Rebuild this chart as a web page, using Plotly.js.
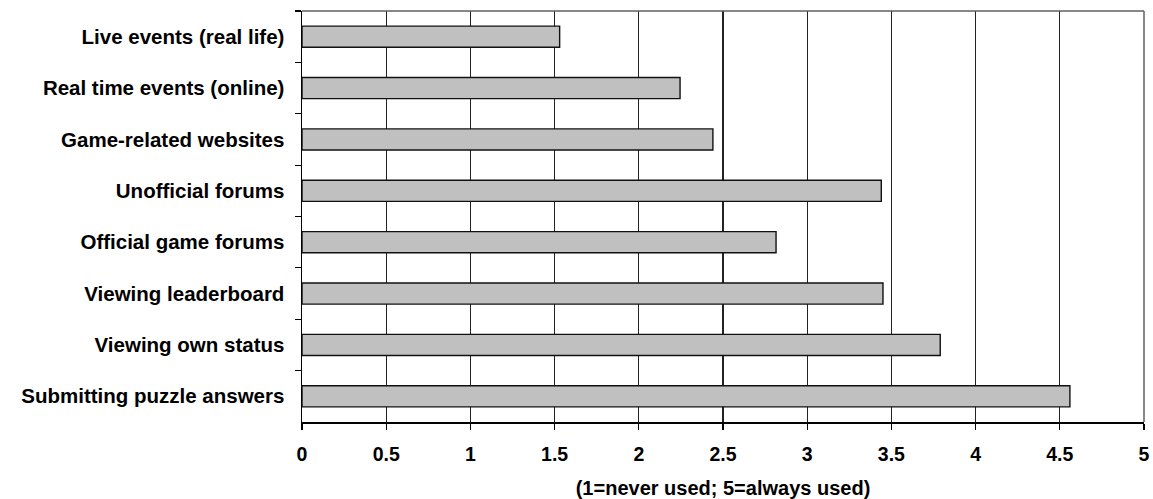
<!DOCTYPE html>
<html>
<head>
<meta charset="utf-8">
<script src="https://cdn.plot.ly/plotly-3.0.1.min.js"></script>
<style>html,body{margin:0;padding:0;background:#fff;}#chart{width:1153px;height:499px;}</style>
</head>
<body>
<div id="chart"></div>
<script>
const categories = [
  "Live events (real life)",
  "Real time events (online)",
  "Game-related websites",
  "Unofficial forums",
  "Official game forums",
  "Viewing leaderboard",
  "Viewing own status",
  "Submitting puzzle answers"
];
const values = [1.53, 2.245, 2.44, 3.44, 2.815, 3.45, 3.79, 4.56];
const xTitle = "(1=never used; 5=always used)";

const FONT = "Liberation Sans, Arial, sans-serif";

const trace = {
  type: "bar",
  orientation: "h",
  y: categories,
  x: values,
  marker: { color: "#c0c0c0", line: { color: "#111", width: 1.4 } },
  hoverinfo: "x+y"
};

const layout = {
  width: 1153,
  height: 499,
  margin: { l: 302, r: 9, t: 11, b: 77 },
  paper_bgcolor: "#fff",
  plot_bgcolor: "#fff",
  bargap: 0.59,
  showlegend: false,
  font: { family: FONT, color: "#000" },
  xaxis: {
    range: [0, 5],
    dtick: 0.5,
    tick0: 0,
    showgrid: true,
    gridcolor: "#222",
    gridwidth: 1.3,
    zeroline: false,
    showline: true,
    linecolor: "#000",
    linewidth: 1.5,
    ticks: "outside",
    ticklen: 6,
    tickwidth: 1.2,
    tickcolor: "#000",
    ticklabelstandoff: 8,
    tickfont: { size: 19.5, family: FONT, weight: "bold", color: "#000" },
    title: { text: xTitle, standoff: 17, font: { size: 20, family: FONT, weight: "bold", color: "#000" } },
    fixedrange: true
  },
  yaxis: {
    type: "category",
    autorange: "reversed",
    showgrid: false,
    zeroline: false,
    showline: true,
    linecolor: "#000",
    linewidth: 1.5,
    ticks: "outside",
    tickson: "boundaries",
    ticklen: 6,
    tickwidth: 1.2,
    tickcolor: "#000",
    ticklabelstandoff: 12,
    tickfont: { size: 20.5, family: FONT, weight: "bold", color: "#000" },
    fixedrange: true
  },
  shapes: [
    { type: "line", xref: "paper", yref: "paper", x0: 0, x1: 1, y0: 1, y1: 1, line: { color: "#606060", width: 1.5 } },
    { type: "line", xref: "paper", yref: "paper", x0: 1, x1: 1, y0: 0, y1: 1, line: { color: "#606060", width: 1.5 } }
  ]
};

Plotly.newPlot("chart", [trace], layout, { displayModeBar: false, staticPlot: true });
</script>
</body>
</html>
